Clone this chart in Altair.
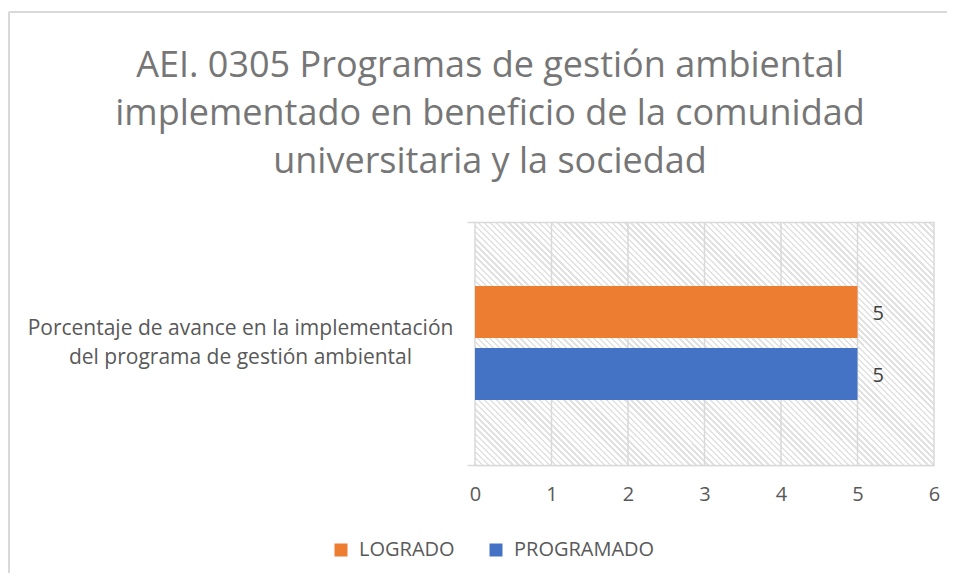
import altair as alt
import pandas as pd

# ---------------- data ----------------
title_lines = [
    "AEI. 0305 Programas de gestión ambiental",
    "implementado en beneficio de la comunidad",
    "universitaria y la sociedad",
]
category_lines = [
    "Porcentaje de avance en la implementación",
    "del programa de gestión ambiental",
]
series = ["LOGRADO", "PROGRAMADO"]
values = [5, 5]
colors = ["#ED7D31", "#4472C4"]
x_ticks = [0, 1, 2, 3, 4, 5, 6]

# ---------------- layout / style ----------------
W, H = 459, 243
FONT = "Open Sans"
TXT = "#595959"
GRID = "#D9D9D9"

category = "\n".join(category_lines)
df = pd.DataFrame({"cat": [category] * len(series), "serie": series, "valor": values})
ticks_df = pd.DataFrame({"t": x_ticks})
title_df = pd.DataFrame({"titulo": ["\n".join(title_lines)]})
one_df = pd.DataFrame({"k": [0]})

# diagonal hatch as a striped linear gradient (style only)
n_stripes = 115
gray_frac = 0.4
stops = []
for i in range(n_stripes):
    a = round(i / n_stripes, 6)
    b = round((i + gray_frac) / n_stripes, 6)
    c = round((i + 1) / n_stripes, 6)
    stops += [
        alt.GradientStop(offset=a, color="#E2E2E2"),
        alt.GradientStop(offset=b, color="#E2E2E2"),
        alt.GradientStop(offset=b, color="#FFFFFF"),
        alt.GradientStop(offset=c, color="#FFFFFF"),
    ]
hatch_fill = alt.LinearGradient(
    gradient="linear", stops=stops, x1=0, y1=1, x2=1.1945, y2=0.368
)

xs = alt.Scale(domain=[0, 6], nice=False, zero=True)
x_axis = alt.Axis(
    title=None, values=x_ticks, grid=False, ticks=False, domain=True,
    domainColor=GRID, domainWidth=1.5, labelFontSize=20, labelFont=FONT,
    labelColor=TXT, labelPadding=19, labelFlush=False, format="d",
)
y_axis = alt.Axis(
    title=None, domain=False, ticks=True, tickBand="extent", tickSize=8,
    tickColor=GRID, tickWidth=1.5, grid=True, gridColor=GRID, gridWidth=1.5,
    labelAlign="center", labelBaseline="middle", labelPadding=227,
    labelOffset=-15, labelFontSize=21, labelFont=FONT, labelColor=TXT,
    labelLineHeight=29, labelLimit=700,
    labelExpr="split(datum.label, '\\n')", zindex=1,
)
ys = alt.Scale(paddingOuter=0, paddingInner=0)
yos = alt.Scale(range=[64, 178], paddingInner=0.1613, paddingOuter=0)

hatch = alt.Chart(one_df).mark_rect(fill=hatch_fill).encode(
    x=alt.X(datum=0, scale=xs, axis=x_axis),
    x2=alt.X2(datum=6),
)

grid = alt.Chart(ticks_df).mark_rule(color=GRID, strokeWidth=1.5).encode(
    x=alt.X("t:Q", scale=xs, axis=x_axis),
)

bars = alt.Chart(df).mark_bar().encode(
    y=alt.Y("cat:N", axis=y_axis, scale=ys),
    yOffset=alt.YOffset("serie:N", sort=series, scale=yos),
    x=alt.X("valor:Q", scale=xs, axis=x_axis),
    color=alt.Color(
        "serie:N",
        scale=alt.Scale(domain=series, range=colors),
        legend=alt.Legend(
            title=None, orient="none", legendX=-144, legendY=318,
            direction="horizontal", symbolType="square", symbolSize=169,
            symbolStrokeWidth=0, labelFontSize=20, labelFont=FONT,
            labelColor=TXT, labelOffset=8, columnPadding=31, padding=0,
        ),
    ),
)

labels = alt.Chart(df).mark_text(
    align="left", baseline="middle", dx=15, dy=2, fontSize=20, font=FONT, color="#404040"
).encode(
    y=alt.Y("cat:N", axis=y_axis, scale=ys),
    yOffset=alt.YOffset("serie:N", sort=series, scale=yos),
    x=alt.X("valor:Q", scale=xs, axis=x_axis),
    text=alt.Text("valor:Q", format="d"),
)

title = alt.Chart(title_df).mark_text(
    lineBreak="\n", fontSize=36, font=FONT, color="#767676",
    align="center", baseline="middle", lineHeight=48,
).encode(x=alt.value(15), y=alt.value(-156), text="titulo:N")

frame_left = alt.Chart(one_df).mark_rule(color=GRID, strokeWidth=2).encode(
    x=alt.value(-466), y=alt.value(-210), y2=alt.value(359)
)
frame_top = alt.Chart(one_df).mark_rule(color=GRID, strokeWidth=2).encode(
    x=alt.value(-466), x2=alt.value(472), y=alt.value(-210)
)

chart = (
    alt.layer(hatch, grid, bars, labels, title, frame_left, frame_top)
    .properties(
        width=W, height=H,
        autosize=alt.AutoSizeParams(type="none"),
        padding={"left": 467, "top": 214, "right": 13, "bottom": 108},
    )
    .configure_view(strokeWidth=0)
)

chart.save("out.html", embed_options={"renderer": "svg", "actions": False})
